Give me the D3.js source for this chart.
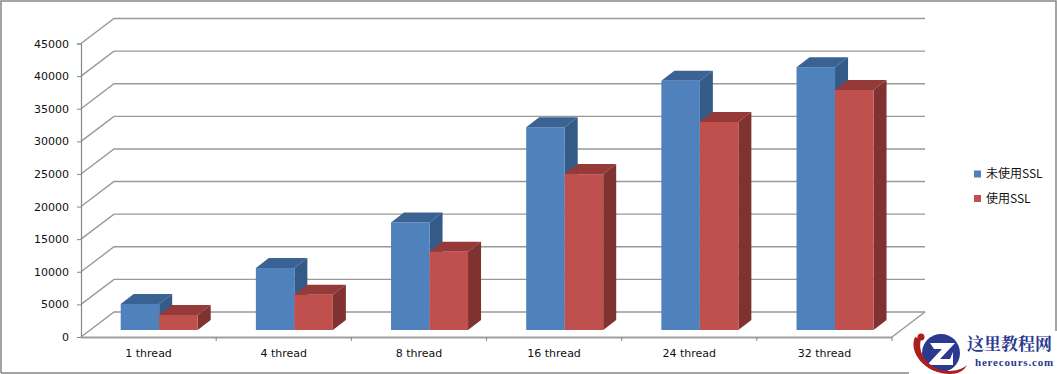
<!DOCTYPE html>
<html>
<head>
<meta charset="utf-8">
<script src="https://cdn.jsdelivr.net/npm/d3@7"></script>
<style>
  html, body { margin: 0; padding: 0; background: #fff; }
  svg { display: block; }
  text { font-family: "DejaVu Sans", sans-serif; fill: #111; }
</style>
</head>
<body>
<div id="chart"></div>
<script>
// values
const categories = ['1 thread', '4 thread', '8 thread', '16 thread', '24 thread', '32 thread'];
const seriesNames = ['未使用SSL', '使用SSL'];
const noSsl = [4000, 9500, 16500, 31100, 38200, 40300];
const withSsl = [2300, 5400, 12000, 23900, 31900, 36800];
const yTicks = [0, 5000, 10000, 15000, 20000, 25000, 30000, 35000, 40000, 45000];

const width = 1057, height = 374;
const plot = { left: 81, right: 892, bottom: 337, top: 43.5 };
const wall = { dx: 33, dy: 25 };   // back wall offset
const depth = { dx: 13, dy: 10 };  // bar depth
const floorShift = 7;              // bars stand a little behind the axis

const colors = [
  { front: '#4f81bd', top: '#3a6293', side: '#345a88' },
  { front: '#c0504d', top: '#953a38', side: '#7f3230' }
];

const svg = d3.select('#chart').append('svg')
  .attr('width', width)
  .attr('height', height);

const x = d3.scaleBand().domain(categories).range([plot.left, plot.right]);
const x1 = d3.scaleBand().domain(d3.range(seriesNames.length)).range([39.7, 116.7]);
const y = d3.scaleLinear().domain([0, 45000]).range([plot.bottom, plot.top]);

// outer frame
svg.append('path')
  .attr('d', `M1,${height - 1}V1H${width - 1}V${height - 1}H1`)
  .attr('fill', 'none')
  .attr('stroke', '#868686')
  .attr('stroke-width', 1.5);

// back wall grid and the left wall diagonals
const gridColor = '#989898';
const grid = svg.append('g').attr('fill', 'none').attr('stroke', gridColor).attr('stroke-width', 1.4);
yTicks.forEach(t => {
  const yy = y(t);
  grid.append('path')
    .attr('d', `M${plot.left},${yy}L${plot.left + wall.dx},${yy - wall.dy}H${plot.right + wall.dx}`);
});
// right edge of the floor
grid.append('path')
  .attr('d', `M${plot.right},${plot.bottom}L${plot.right + wall.dx},${plot.bottom - wall.dy}`);

// bars
const data = categories.map((c, i) => ({ cat: c, vals: [noSsl[i], withSsl[i]] }));
const groups = svg.selectAll('g.group')
  .data(data)
  .enter().append('g')
  .attr('class', 'group')
  .attr('transform', d => `translate(${x(d.cat)},0)`);

const bars = groups.selectAll('g.bar')
  .data(d => d.vals.map((v, s) => ({ v, s })))
  .enter().append('g')
  .attr('class', 'bar');

bars.append('path') // top face
  .attr('fill', d => colors[d.s].top)
  .attr('d', d => {
    const x0 = x1(d.s), w = x1.bandwidth(), t = y(d.v) - floorShift;
    return `M${x0},${t}l${depth.dx},${-depth.dy}h${w}l${-depth.dx},${depth.dy}Z`;
  });

bars.append('path') // side face
  .attr('fill', d => colors[d.s].side)
  .attr('d', d => {
    const xr = x1(d.s) + x1.bandwidth(), t = y(d.v) - floorShift, b = y(0) - floorShift;
    return `M${xr},${t}l${depth.dx},${-depth.dy}V${b - depth.dy}L${xr},${b}Z`;
  });

bars.append('rect') // front face
  .attr('x', d => x1(d.s))
  .attr('y', d => y(d.v) - floorShift)
  .attr('width', x1.bandwidth())
  .attr('height', d => y(0) - y(d.v))
  .attr('fill', d => colors[d.s].front);

// axes
const yAxis = d3.axisLeft(y).tickValues(yTicks).tickSize(4).tickPadding(8).tickFormat(d3.format('d'));
const xAxis = d3.axisBottom(x).tickSize(0).tickPadding(12);

const gy = svg.append('g').attr('transform', `translate(${plot.left},0)`).call(yAxis);
const gx = svg.append('g').attr('transform', `translate(0,${plot.bottom})`).call(xAxis);

[gy, gx].forEach(g => {
  g.selectAll('text').style('font-family', '"DejaVu Sans", sans-serif').style('font-size', '11px').attr('fill', '#000');
  g.selectAll('line').attr('stroke', '#868686');
});
gy.select('.domain').attr('stroke', '#868686').attr('stroke-width', 1.2);
gx.select('.domain').attr('stroke', '#a0a0a0').attr('stroke-width', 2);

// group separators on the x axis
gx.selectAll('line.sep')
  .data(categories)
  .enter().append('line')
  .attr('class', 'sep')
  .attr('x1', d => x(d) + x.bandwidth())
  .attr('x2', d => x(d) + x.bandwidth())
  .attr('y1', 0)
  .attr('y2', 4)
  .attr('stroke', '#868686');

// legend
const legend = svg.selectAll('g.legend')
  .data(seriesNames)
  .enter().append('g')
  .attr('class', 'legend')
  .attr('transform', (d, i) => `translate(974,${170.5 + i * 24.5})`);

legend.append('rect')
  .attr('width', 7)
  .attr('height', 7)
  .attr('fill', (d, i) => colors[i].front);

legend.append('text')
  .attr('x', 12)
  .attr('y', 7.5)
  .style('font-family', '"Noto Sans CJK SC", sans-serif')
  .style('font-size', '12px')
  .text(d => d);

// watermark, bottom right
const mark = svg.append('g');
mark.append('rect').attr('x', 909).attr('y', 331).attr('width', 148).attr('height', 43).attr('fill', '#fff');
mark.append('circle').attr('cx', 941).attr('cy', 353).attr('r', 19).attr('fill', '#2b3990');
mark.append('path')
  .attr('d', 'M930,343H955L940,359H950L953,352V365H927L942,349H934Z')
  .attr('fill', '#fff');
mark.append('path')
  .attr('d', 'M915,337C908,352 925,374 950,374C958,374 964,371 967,365C960,371 950,372 941,370C928,366 917,354 921,339Z')
  .attr('fill', '#a8201f');
mark.append('circle').attr('cx', 921).attr('cy', 337).attr('r', 3.5).attr('fill', '#a8201f');
mark.append('text')
  .attr('x', 967)
  .attr('y', 350)
  .style('font-family', '"Noto Serif CJK SC", "Noto Sans CJK SC", serif')
  .style('font-size', '17px')
  .style('font-weight', 700)
  .style('fill', '#2b3990')
  .text('这里教程网');
mark.append('text')
  .attr('x', 975)
  .attr('y', 366)
  .style('font-family', '"Liberation Serif", serif')
  .style('font-size', '11px')
  .style('font-weight', 700)
  .style('letter-spacing', '0.8px')
  .style('fill', '#2b3990')
  .text('herecours.com');
</script>
</body>
</html>
